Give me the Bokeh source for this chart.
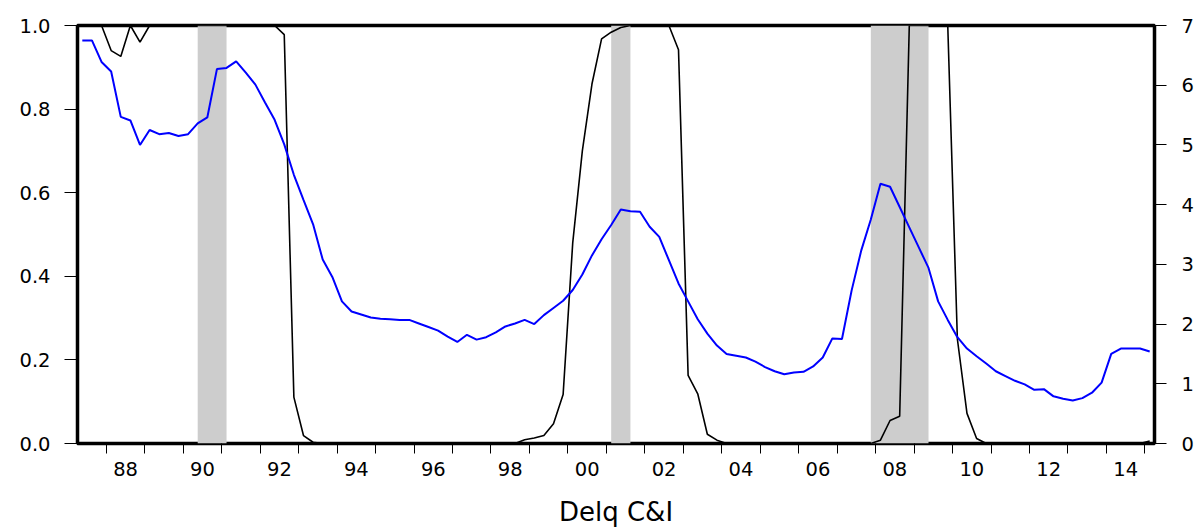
from bokeh.plotting import figure
from bokeh.models import Range1d, LinearAxis, FixedTicker, BoxAnnotation, PrintfTickFormatter
from bokeh.embed import file_html
from bokeh.resources import INLINE

# ---------------- data (quarterly, 1987Q2 .. 2015Q1) ----------------
first_quarter = (1987, 2)

# Delinquency rate on C&I loans (right axis, %)
delq_rate = [
    6.75, 6.75, 6.39, 6.23, 5.47, 5.41, 5.00, 5.25, 5.18, 5.20,
    5.15, 5.18, 5.36, 5.46, 6.27, 6.29, 6.40, 6.21, 6.01, 5.71,
    5.42, 5.01, 4.50, 4.08, 3.67, 3.08, 2.79, 2.38, 2.21, 2.16,
    2.11, 2.09, 2.08, 2.07, 2.07, 2.01, 1.95, 1.89, 1.79, 1.70,
    1.82, 1.74, 1.78, 1.86, 1.96, 2.01, 2.07, 2.00, 2.15, 2.27,
    2.39, 2.57, 2.83, 3.15, 3.42, 3.66, 3.92, 3.89, 3.88, 3.63,
    3.46, 3.07, 2.68, 2.38, 2.08, 1.84, 1.64, 1.50, 1.47, 1.44,
    1.37, 1.28, 1.21, 1.16, 1.19, 1.20, 1.29, 1.44, 1.76, 1.75,
    2.56, 3.23, 3.75, 4.35, 4.30, 3.96, 3.62, 3.28, 2.94, 2.38,
    2.07, 1.78, 1.59, 1.46, 1.34, 1.21, 1.13, 1.05, 0.99, 0.90,
    0.91, 0.79, 0.75, 0.72, 0.76, 0.85, 1.02, 1.50, 1.59, 1.59,
    1.59, 1.54,
]

# Regime probability (left axis)
probability = [
    1.0, 1.0, 1.0, 0.94, 0.926, 1.0, 0.96, 1.0, 1.0, 1.0,
    1.0, 1.0, 1.0, 1.0, 1.0, 1.0, 1.0, 1.0, 1.0, 1.0,
    1.0, 0.978, 0.111, 0.019, 0.003, 0.0, 0.0, 0.0, 0.0, 0.0,
    0.0, 0.0, 0.0, 0.0, 0.0, 0.0, 0.0, 0.0, 0.0, 0.0,
    0.0, 0.0, 0.0, 0.0, 0.0, 0.0, 0.009, 0.013, 0.019, 0.047,
    0.117, 0.48, 0.70, 0.86, 0.968, 0.984, 0.995, 1.0, 1.0, 1.0,
    1.0, 1.0, 0.942, 0.163, 0.119, 0.022, 0.008, 0.0, 0.0, 0.0,
    0.0, 0.0, 0.0, 0.0, 0.0, 0.0, 0.0, 0.0, 0.0, 0.0,
    0.0, 0.0, 0.0, 0.008, 0.055, 0.065, 1.0, 1.0, 1.0, 1.0,
    1.0, 0.25, 0.072, 0.012, 0.0, 0.0, 0.0, 0.0, 0.0, 0.0,
    0.0, 0.0, 0.0, 0.0, 0.0, 0.0, 0.0, 0.0, 0.0, 0.0,
    0.0, 0.006,
]

# Recession shading (first quarter, last quarter)
recessions = [((1990, 2), (1991, 1)), ((2001, 1), (2001, 3)), ((2007, 4), (2009, 2))]

label_years = list(range(1988, 2015, 2))
tick_years = list(range(1988, 2016))
left_ticks = [0.0, 0.2, 0.4, 0.6, 0.8, 1.0]
right_ticks = [0, 1, 2, 3, 4, 5, 6, 7]
x_title = "Delq C&I"


def qpos(year, q):
    # centre of the quarter's slot on a fractional-year axis
    return year + (q - 1) / 4 + 0.125


y0, q0 = first_quarter
xs = []
for i in range(len(delq_rate)):
    qq = q0 - 1 + i
    xs.append(qpos(y0 + qq // 4, qq % 4 + 1))

FONT = "DejaVu Sans"
TICK_SIZE = "19.5px"

p = figure(width=1199, height=532,
           x_range=Range1d(1987.25, 2015.25), y_range=Range1d(0, 1),
           output_backend="svg", toolbar_location=None,
           min_border_left=77, min_border_right=45,
           min_border_top=25, min_border_bottom=89,
           background_fill_color="white", border_fill_color="white")
p.grid.visible = False
p.outline_line_color = "black"
p.outline_line_width = 3.5

p.extra_y_ranges = {"rate": Range1d(0, 7)}

for (a, b) in recessions:
    p.add_layout(BoxAnnotation(left=qpos(*a), right=qpos(*b),
                               fill_color="#cdcdcd", fill_alpha=1.0,
                               line_color=None, level="underlay"))

p.line(xs, probability, line_color="black", line_width=1.6)
p.line(xs, delq_rate, line_color="#0000ff", line_width=2, y_range_name="rate")

# left axis
ya = p.yaxis[0]
ya.ticker = FixedTicker(ticks=left_ticks)
ya.formatter = PrintfTickFormatter(format="%.1f")
ya.axis_line_color = None
ya.major_tick_out = 13
ya.major_tick_in = 0
ya.minor_tick_out = 0
ya.minor_tick_in = 0
ya.major_label_standoff = 14
ya.major_label_text_font = FONT
ya.major_label_text_font_size = TICK_SIZE
ya.major_label_text_color = "black"
ya.major_tick_line_color = "black"

# right axis
ra = LinearAxis(y_range_name="rate", ticker=FixedTicker(ticks=right_ticks))
ra.axis_line_color = None
ra.major_tick_out = 12
ra.major_tick_in = 0
ra.minor_tick_out = 0
ra.minor_tick_in = 0
ra.major_label_standoff = 15
ra.major_label_text_font = FONT
ra.major_label_text_font_size = TICK_SIZE
ra.major_label_text_color = "black"
p.add_layout(ra, "right")

# bottom axis: yearly tick marks (minor) and labels centred in every other year (major)
xa = p.xaxis[0]
xa.ticker = FixedTicker(ticks=[y + 0.5 for y in label_years], minor_ticks=tick_years)
xa.major_label_overrides = {y + 0.5: "%02d" % (y % 100) for y in label_years}
xa.axis_line_color = None
xa.major_tick_out = 0
xa.major_tick_in = 0
xa.minor_tick_out = 10
xa.minor_tick_in = 0
xa.minor_tick_line_color = "black"
xa.major_label_standoff = 8
xa.major_label_text_font = FONT
xa.major_label_text_font_size = TICK_SIZE
xa.major_label_text_color = "black"

# series title below the axis
xa.axis_label = x_title
xa.axis_label_standoff = 18
xa.axis_label_text_font = FONT
xa.axis_label_text_font_size = "26px"
xa.axis_label_text_font_style = "normal"
xa.axis_label_text_color = "black"

open("out.html", "w").write(file_html(p, INLINE))
